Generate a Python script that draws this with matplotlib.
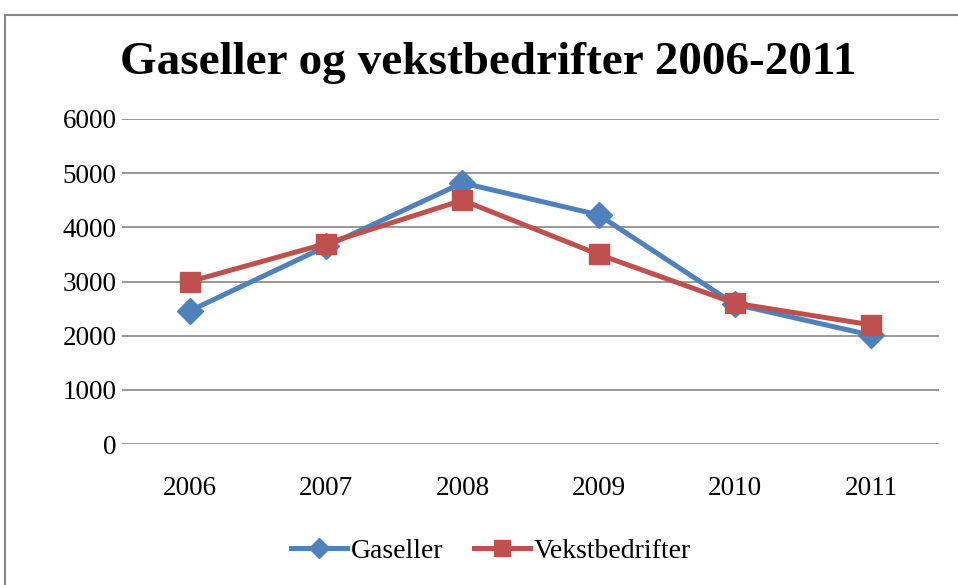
import matplotlib
matplotlib.use("Agg")
import matplotlib.pyplot as plt
from matplotlib.patches import Rectangle

years = ["2006", "2007", "2008", "2009", "2010", "2011"]
gaseller = [2460, 3650, 4820, 4230, 2580, 2010]
vekstbedrifter = [3000, 3700, 4500, 3500, 2600, 2200]
yticks = [0, 1000, 2000, 3000, 4000, 5000, 6000]

W, H = 958, 585
fig = plt.figure(figsize=(W / 100, H / 100), dpi=100)
fig.patch.set_facecolor("white")

# chart area border (left and top visible)
fig.patches.append(Rectangle((5 / W, -0.1), 1.2, (H - 15) / H + 0.1,
                             transform=fig.transFigure, fill=False,
                             edgecolor="#868686", linewidth=1.5))

ax = fig.add_axes([122 / W, 1 - 444 / H, (939 - 122) / W, (444 - 119) / H])
x = range(len(years))
blue = "#4F81BD"
red = "#C0504D"
ax.plot(x, gaseller, color=blue, lw=3.6, marker="D", markersize=13,
        label="Gaseller", zorder=3)
ax.plot(x, vekstbedrifter, color=red, lw=3.6, marker="s", markersize=14,
        label="Vekstbedrifter", zorder=4)

ax.set_xlim(-0.5, len(years) - 0.5)
ax.set_ylim(0, 6000)
ax.set_yticks(yticks)
ax.set_xticks(list(x))
ax.set_xticklabels(years)
for s in ax.spines.values():
    s.set_visible(False)
ax.grid(axis="y", color="#868686", lw=1.2)
ax.set_axisbelow(True)
ax.tick_params(length=0)
for lab in ax.get_xticklabels() + ax.get_yticklabels():
    lab.set_family("Liberation Serif")
    lab.set_fontsize(19.5)
ax.tick_params(axis="y", pad=4)
ax.tick_params(axis="x", pad=23)

fig.text(488 / W, 1 - 63 / H, "Gaseller og vekstbedrifter 2006-2011",
         ha="center", va="center", fontsize=34, fontweight="bold",
         family="Liberation Serif")

leg = fig.legend(loc="center", bbox_to_anchor=(491 / W, 1 - 551 / H),
                 ncol=2, frameon=False, handlelength=2.0, columnspacing=1.1,
                 handletextpad=0.15, markerscale=0.8,
                 prop={"family": "Liberation Serif", "size": 20})

fig.savefig("out.png", dpi=100)
